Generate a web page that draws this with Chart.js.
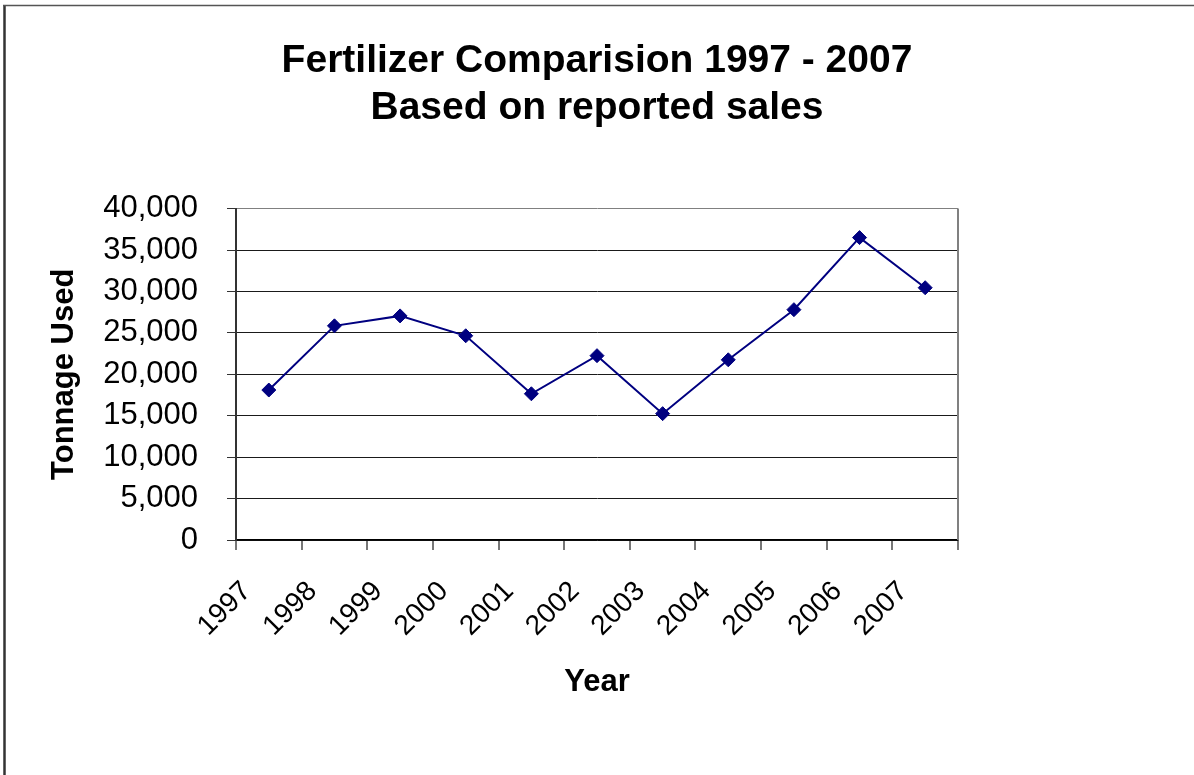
<!DOCTYPE html>
<html>
<head>
<meta charset="utf-8">
<script src="https://cdn.jsdelivr.net/npm/chart.js@4.4.1/dist/chart.umd.min.js"></script>
<style>
  html, body { margin: 0; padding: 0; background: #fff; }
  #wrap { width: 1194px; height: 775px; }
</style>
</head>
<body>
<div id="wrap"><canvas id="myChart" width="1194" height="775"></canvas></div>
<script>
    // data
    const years = ['1997', '1998', '1999', '2000', '2001', '2002', '2003', '2004', '2005', '2006', '2007'];
    const tonnage = [18100, 25850, 27050, 24650, 17650, 22250, 15250, 21750, 27800, 36500, 30450];
    const yTicks = [0, 5000, 10000, 15000, 20000, 25000, 30000, 35000, 40000];
    const chartTitle = ['Fertilizer Comparision 1997 - 2007', 'Based on reported sales'];
    const xTitle = 'Year';
    const yTitle = 'Tonnage Used';

    const FONT = "'Liberation Sans', Arial, sans-serif";

    // outer frame + grey plot border
    const framePlugin = {
      id: 'frame',
      beforeDatasetsDraw(chart) {
        const c = chart.ctx, a = chart.chartArea;
        c.save();
        c.strokeStyle = '#808080';
        c.lineWidth = 2;
        c.beginPath();
        c.moveTo(a.right, a.top);
        c.lineTo(a.right, a.bottom);
        c.stroke();
        c.restore();
      },
      afterDraw(chart) {
        const c = chart.ctx;
        c.save();
        c.strokeStyle = '#333';
        c.lineWidth = 2.5;
        c.beginPath();
        c.moveTo(4.5, 5);
        c.lineTo(4.5, chart.height);
        c.stroke();
        c.lineWidth = 1.5;
        c.strokeStyle = '#555';
        c.beginPath();
        c.moveTo(3, 5.5);
        c.lineTo(chart.width, 5.5);
        c.stroke();
        c.restore();
      }
    };

    const ctx = document.getElementById('myChart');

    const myChart = new Chart(ctx, {
      type: 'line',
      data: {
        labels: years,
        datasets: [{
          label: yTitle,
          data: tonnage,
          borderColor: '#000080',
          backgroundColor: '#000080',
          borderWidth: 2,
          pointStyle: 'rectRot',
          pointRadius: 7,
          pointBorderWidth: 1,
          tension: 0
        }]
      },
      options: {
        responsive: false,
        animation: false,
        layout: { padding: 0 },
        plugins: {
          legend: { display: false },
          tooltip: { enabled: false },
          title: {
            display: true,
            text: chartTitle,
            color: '#000',
            font: { family: FONT, size: 39, weight: 'bold', lineHeight: 1.2 },
            padding: { top: 38, bottom: 77 }
          }
        },
        scales: {
          x: {
            offset: true,
            grid: {
              display: true,
              offset: true,
              drawOnChartArea: false,
              drawTicks: true,
              tickLength: 10,
              color: '#777',
              lineWidth: 2
            },
            border: { display: true, color: '#000', width: 1.5 },
            ticks: {
              color: '#000',
              font: { family: FONT, size: 28 },
              minRotation: 45,
              maxRotation: 45,
              autoSkip: false,
              labelOffset: -22,
              padding: 25
            },
            title: {
              display: true,
              text: xTitle,
              color: '#000',
              font: { family: FONT, size: 31, weight: 'bold', lineHeight: 1.2 },
              padding: { top: 0, bottom: 74 }
            },
            afterFit(scale) { scale.height = 775 - 540; }
          },
          y: {
            min: yTicks[0],
            max: yTicks[yTicks.length - 1],
            afterBuildTicks(scale) {
              scale.ticks = yTicks.map(v => ({ value: v }));
            },
            grid: {
              color: (c) => (c.tick && c.tick.value === yTicks[yTicks.length - 1]) ? '#808080' : '#1a1a1a',
              tickColor: '#333',
              lineWidth: 1,
              tickLength: 9
            },
            border: { display: true, color: '#333', width: 2 },
            ticks: {
              color: '#000',
              font: { family: FONT, size: 31 },
              padding: 29,
              callback: (v) => Number(v).toLocaleString('en-US')
            },
            title: {
              display: true,
              text: yTitle,
              color: '#000',
              font: { family: FONT, size: 31, weight: 'bold', lineHeight: 1.2 },
              padding: { top: 46, bottom: 0 }
            },
            afterFit(scale) { scale.width = 236; }
          },
          // empty right box so the plot ends where the reference does
          yRight: {
            position: 'right',
            display: true,
            grid: { display: false },
            border: { display: false },
            ticks: { display: false },
            afterFit(scale) { scale.width = 1194 - 958; }
          }
        }
      },
      plugins: [framePlugin]
    });
</script>
</body>
</html>
